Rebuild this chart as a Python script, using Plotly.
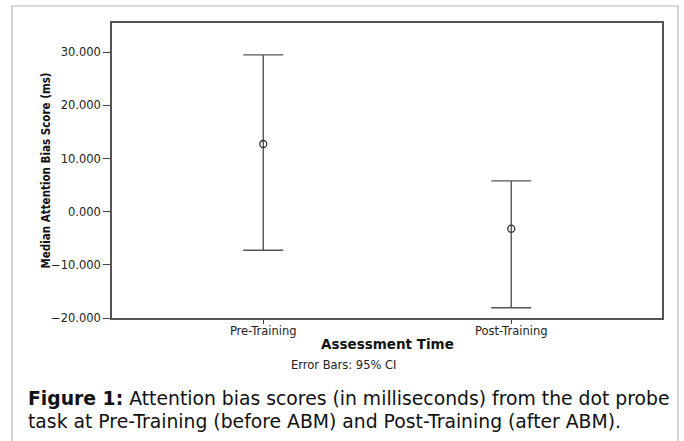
import plotly.graph_objects as go

categories = ["Pre-Training", "Post-Training"]
medians = [12.74, -3.2]
ci_upper = [29.5, 5.8]
ci_lower = [-7.26, -18.06]
y_ticks = [-20, -10, 0, 10, 20, 30]

err_plus = [u - m for u, m in zip(ci_upper, medians)]
err_minus = [m - l for m, l in zip(medians, ci_lower)]

W, H = 684, 441
L, R, T, B = 112, 662, 23, 318

def px(x):
    return (x - L) / (R - L)

def py(y):
    return (B - y) / (B - T)

fig = go.Figure()
fig.add_trace(go.Scatter(
    x=categories, y=medians, mode="markers",
    marker=dict(symbol="circle-open", size=7, color="#333333", line=dict(width=1.3, color="#333333")),
    error_y=dict(type="data", symmetric=False, array=err_plus, arrayminus=err_minus,
                 width=20, thickness=1.4, color="#555555"),
    showlegend=False, hoverinfo="skip",
))

fig.update_layout(
    width=W, height=H,
    margin=dict(l=L, r=W - R, t=T, b=H - B, pad=0),
    paper_bgcolor="white", plot_bgcolor="white",
    font=dict(family="DejaVu Sans", size=11, color="#222222"),
    xaxis=dict(
        type="category", range=[-0.61, 1.608], showgrid=False, zeroline=False,
        showline=True, linecolor="#555555", linewidth=1.5, mirror=True,
        ticks="outside", ticklen=4, tickcolor="#444444", tickwidth=1.2,
        ticklabelstandoff=-3,
        tickfont=dict(family="DejaVu Sans", size=11.5, color="#222222"),
    ),
    yaxis=dict(
        range=[-20, 35.5], showgrid=False, zeroline=False,
        showline=True, linecolor="#555555", linewidth=1.5, mirror=True,
        tickvals=y_ticks, tickformat=".3f",
        ticks="outside", ticklen=7, tickcolor="#444444", tickwidth=1.2,
        tickfont=dict(family="DejaVu Sans", size=11.5, color="#222222"),
    ),
    shapes=[
        dict(type="rect", xref="paper", yref="paper",
             x0=px(12), x1=px(678), y0=py(460), y1=py(6),
             line=dict(color="#b5b5b5", width=1.2), fillcolor="rgba(0,0,0,0)", layer="below"),
    ],
    annotations=[
        dict(text="<b>Median Attention Bias Score (ms)</b>", xref="paper", yref="paper",
             x=px(45), y=py(170.5), textangle=-90, showarrow=False,
             xanchor="center", yanchor="middle",
             font=dict(family="DejaVu Sans Condensed", size=11.5, color="#111111")),
        dict(text="<b>Assessment Time</b>", xref="paper", yref="paper",
             x=px(387), y=py(344), showarrow=False, xanchor="center", yanchor="middle",
             font=dict(family="DejaVu Sans", size=13.5, color="#111111")),
        dict(text="Error Bars: 95% CI", xref="paper", yref="paper",
             x=px(343.5), y=py(365), showarrow=False, xanchor="center", yanchor="middle",
             font=dict(family="DejaVu Sans", size=11.5, color="#222222")),
        dict(text="<b>Figure 1:</b> Attention bias scores (in milliseconds) from the dot probe",
             xref="paper", yref="paper", x=px(26), y=py(398), showarrow=False,
             xanchor="left", yanchor="middle",
             font=dict(family="DejaVu Sans", size=18.8, color="#111111")),
        dict(text="task at Pre-Training (before ABM) and Post-Training (after ABM).",
             xref="paper", yref="paper", x=px(26), y=py(421), showarrow=False,
             xanchor="left", yanchor="middle",
             font=dict(family="DejaVu Sans", size=18.8, color="#111111")),
    ],
)

fig.write_html("out.html", config={"displayModeBar": False},
               post_script="document.body.style.margin='0';document.body.style.overflow='hidden';")
